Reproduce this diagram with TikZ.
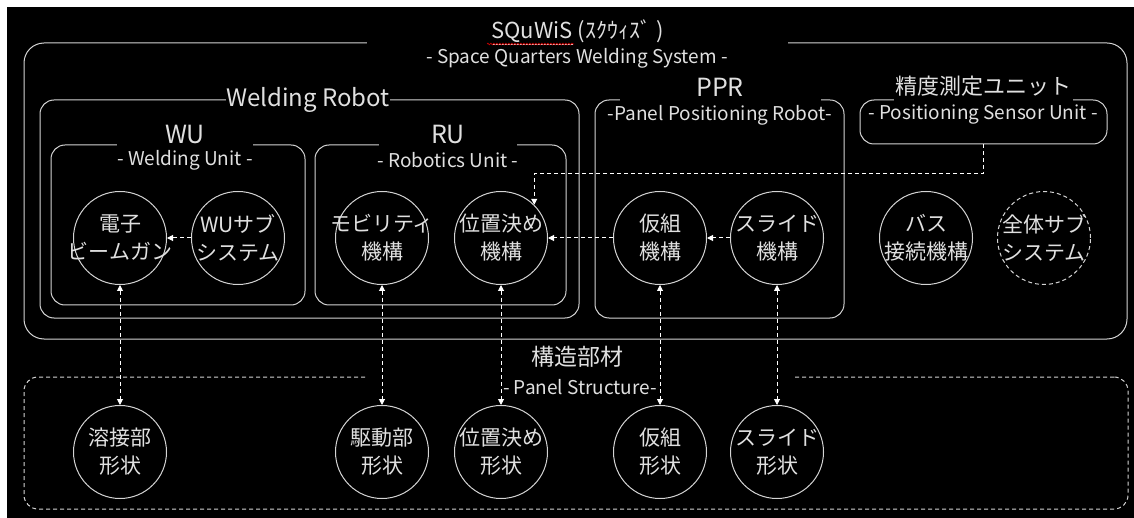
\documentclass[tikz,border=0pt]{standalone}
\usepackage{fontspec}
\setmainfont{Noto Sans CJK JP}
\usetikzlibrary{arrows.meta, decorations.pathmorphing}
\definecolor{edge}{HTML}{D4D4D4}
\definecolor{ink}{HTML}{E0E0E0}

\begin{document}
\begin{tikzpicture}[x=1pt, y=-1pt,
  grp/.style={draw=edge, line width=1pt, rounded corners=14pt, inner sep=0pt},
  ttl/.style={fill=black, text=ink, inner sep=0pt, minimum height=30pt, font=\fontsize{25}{30}\selectfont},
  sub/.style={text=ink, inner sep=0pt, font=\fontsize{19}{23}\selectfont},
  ctxt/.style={text=ink, align=center, inner sep=0pt, font=\fontsize{21}{28}\selectfont},
  part/.style={circle, draw=edge, line width=1pt, minimum size=93pt, inner sep=0pt, label={[ctxt]center:#1}},
  link/.style={draw=white, line width=1pt, dash pattern=on 4pt off 3pt, -{Triangle[length=6pt,width=6pt]}},
  link2/.style={link, {Triangle[length=6pt,width=6pt]}-{Triangle[length=6pt,width=6pt]}}
]
  \useasboundingbox (0,0) rectangle (1134,518);
  \fill[white] (0,0) rectangle (1134,518);
  \fill[black] (7,7) rectangle (1134,518);

  % groups
  \node[grp, rounded corners=20pt, minimum width=1103pt, minimum height=296pt] (sqw) at (575.5,191) {};
  \node[grp, minimum width=539pt, minimum height=218pt] (wr) at (309.5,209) {};
  \node[grp, minimum width=254pt, minimum height=160pt] (wu) at (178,225) {};
  \node[grp, minimum width=251pt, minimum height=160pt] (ru) at (440.5,225) {};
  \node[grp, minimum width=249pt, minimum height=218pt] (ppr) at (719.5,209) {};
  \node[grp, minimum width=247pt, minimum height=44pt] (sensor) at (983.5,122) {};
  \node[grp, dash pattern=on 4pt off 3pt, minimum width=1104pt, minimum height=132pt] (panel) at (576,443) {};

  % titles
  \node[ttl, minimum width=421pt, font=\fontsize{22}{26}\selectfont] (sqwt) at (577.5,32) {\underline{SQuWiS} (ｽｸｳｨｽﾞ )};
  \node[sub] (sqws) at (577,58) {- Space Quarters Welding System -};
  \node[ttl, minimum width=160pt, font=\fontsize{24}{30}\selectfont] (wrt) at (308,100) {Welding Robot};
  \node[ttl, minimum width=136pt] (wut) at (185,135) {WU};
  \node[sub] (wus) at (185,160) {- Welding Unit -};
  \node[ttl, minimum width=138pt] (rut) at (448,135) {RU};
  \node[sub] (rus) at (448,160) {- Robotics Unit -};
  \node[ttl, minimum width=201pt, minimum height=32pt] (pprt) at (720,87) {PPR};
  \node[sub] (pprs) at (720,115) {-Panel Positioning Robot-};
  \node[ttl, minimum width=179pt, minimum height=32pt, font=\fontsize{22}{26}\selectfont] (sensort) at (983,86) {精度測定ユニット};
  \node[sub] (sensors) at (983,115) {- Positioning Sensor Unit -};
  \node[ttl, fill=none, font=\fontsize{23}{28}\selectfont] (panelt) at (577,357) {構造部材};
  \node[sub, fill=black, minimum width=426pt, minimum height=24pt] (panels) at (580,387) {- Panel Structure-};

  % parts
  \node[part={電子\\ビームガン}] (egun) at (120,238) {};
  \node[part={WUサブ\\システム}] (wusub) at (238,238) {};
  \node[part={モビリティ\\機構}] (mob) at (382,238) {};
  \node[part={位置決め\\機構}] (pos) at (501,238) {};
  \node[part={仮組\\機構}] (kari) at (660,238) {};
  \node[part={スライド\\機構}] (slide) at (777,238) {};
  \node[part={バス\\接続機構}] (bus) at (926,238) {};
  \node[part={全体サブ\\システム}, dash pattern=on 4pt off 3pt] (whole) at (1044,238) {};

  \node[part={溶接部\\形状}] (weld) at (120,452) {};
  \node[part={駆動部\\形状}] (drive) at (382,452) {};
  \node[part={位置決め\\形状}] (posf) at (501,452) {};
  \node[part={仮組\\形状}] (karif) at (660,452) {};
  \node[part={スライド\\形状}] (slidef) at (777,452) {};

  % links
  \draw[link] (wusub) -- (egun);
  \draw[link] (kari) -- (pos);
  \draw[link] (slide) -- (kari);
  \coordinate (bend) at (0,174);
  \draw[link] (sensor.south) |- (pos.45 |- bend) -- (pos.45);
  \foreach \a/\b in {egun/weld, mob/drive, pos/posf, kari/karif, slide/slidef}
    \draw[link2] (\a) -- (\b);

  \draw[red!80!black, line width=0.7pt, decorate, decoration={snake, amplitude=0.8pt, segment length=3pt}] (487,44) -- (574,44);
\end{tikzpicture}
\end{document}
